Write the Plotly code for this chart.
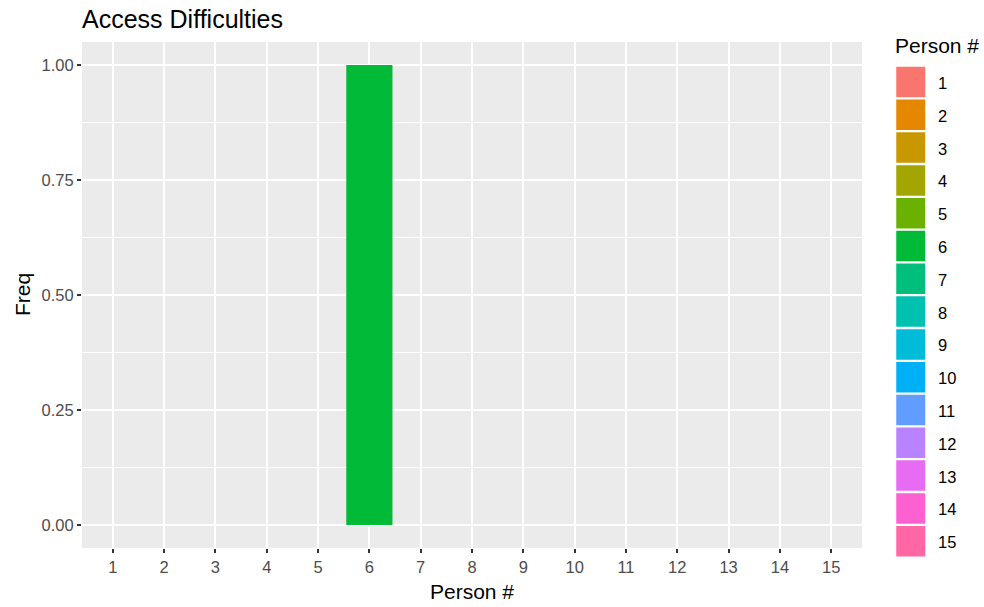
import plotly.graph_objects as go

# ---- data ----
persons = [str(i) for i in range(1, 16)]
freq = [0, 0, 0, 0, 0, 1, 0, 0, 0, 0, 0, 0, 0, 0, 0]
colors = ["#F8766D", "#E58700", "#C99800", "#A3A500", "#6BB100", "#00BA38",
          "#00BF7D", "#00C0AF", "#00BCD8", "#00B0F6", "#619CFF", "#B983FF",
          "#E76BF3", "#FD61D1", "#FF67A4"]
y_ticks = [0, 0.25, 0.5, 0.75, 1.0]
y_tick_labels = ["0.00", "0.25", "0.50", "0.75", "1.00"]

W, H = 984, 607
L, R, T, B = 82, 122, 42, 59
pw, ph = W - L - R, H - T - B

fig = go.Figure()
fig.add_trace(go.Bar(
    x=persons, y=freq, width=0.9,
    marker=dict(color=colors, line=dict(width=0)),
    showlegend=False,
))

font = "Arial, Liberation Sans, sans-serif"

shapes = []
annotations = []
def px_x(p):
    return (p - L) / pw
def px_y(p):
    return (H - B - p) / ph

# custom ggplot-like legend
key_x0, key_x1 = 895.5, 926
first_c, pitch, ksz = 82, 32.8, 32
for i, (lab, col) in enumerate(zip(persons, colors)):
    cy = first_c + pitch * i
    shapes.append(dict(type="rect", xref="paper", yref="paper",
                       x0=px_x(key_x0), x1=px_x(key_x1),
                       y0=px_y(cy + ksz / 2), y1=px_y(cy - ksz / 2),
                       fillcolor=col, line=dict(color="white", width=1.5)))
    annotations.append(dict(xref="paper", yref="paper", x=px_x(936), y=px_y(cy + 1),
                            text=lab, showarrow=False, xanchor="left", yanchor="middle",
                            font=dict(family=font, size=16.5, color="black")))
annotations.append(dict(xref="paper", yref="paper", x=px_x(893), y=px_y(46),
                        text="Person #", showarrow=False, xanchor="left", yanchor="middle",
                        font=dict(family=font, size=21, color="black")))
# axis titles
annotations.append(dict(xref="paper", yref="paper", x=0.5, y=px_y(591),
                        text="Person #", showarrow=False, xanchor="center", yanchor="middle",
                        font=dict(family=font, size=21, color="black")))
annotations.append(dict(xref="paper", yref="paper", x=px_x(22), y=0.5, textangle=-90,
                        text="Freq", showarrow=False, xanchor="center", yanchor="middle",
                        font=dict(family=font, size=21, color="black")))

fig.update_layout(
    width=W, height=H,
    margin=dict(l=L, r=R, t=T, b=B),
    paper_bgcolor="white", plot_bgcolor="#EBEBEB",
    title=dict(text="Access Difficulties", x=L / W, xanchor="left",
               y=1 - 19 / H, yanchor="middle",
               font=dict(family=font, size=25, color="black")),
    showlegend=False,
    barmode="overlay",
    shapes=shapes,
    annotations=annotations,
    xaxis=dict(
        type="category", categoryorder="array", categoryarray=persons,
        range=[-0.6, 14.6], showgrid=True, gridcolor="white", gridwidth=2,
        zeroline=False, showline=False,
        ticks="outside", ticklen=4, tickcolor="#333333", tickwidth=1.5,
        tickfont=dict(family=font, size=16.5, color="#4D4D4D"),
    ),
    yaxis=dict(
        range=[-0.05, 1.05], tickvals=y_ticks, ticktext=y_tick_labels,
        showgrid=True, gridcolor="white", gridwidth=2,
        zeroline=False, showline=False,
        ticks="outside", ticklen=4, tickcolor="#333333", tickwidth=1.5,
        tickfont=dict(family=font, size=16.5, color="#4D4D4D"),
        minor=dict(tickvals=[0.125, 0.375, 0.625, 0.875], showgrid=True,
                   gridcolor="white", gridwidth=1, ticks=""),
    ),
)

fig.write_html("out.html", config={"displayModeBar": False})

# remove default page margin so the figure fills the window exactly
with open("out.html", "r", encoding="utf-8") as f:
    html = f.read()
html = html.replace("<body>", '<body style="margin:0;padding:0;">', 1)
html = html.replace("<head>", '<head><style>html,body{margin:0;padding:0;overflow:hidden;}</style>', 1)
with open("out.html", "w", encoding="utf-8") as f:
    f.write(html)
